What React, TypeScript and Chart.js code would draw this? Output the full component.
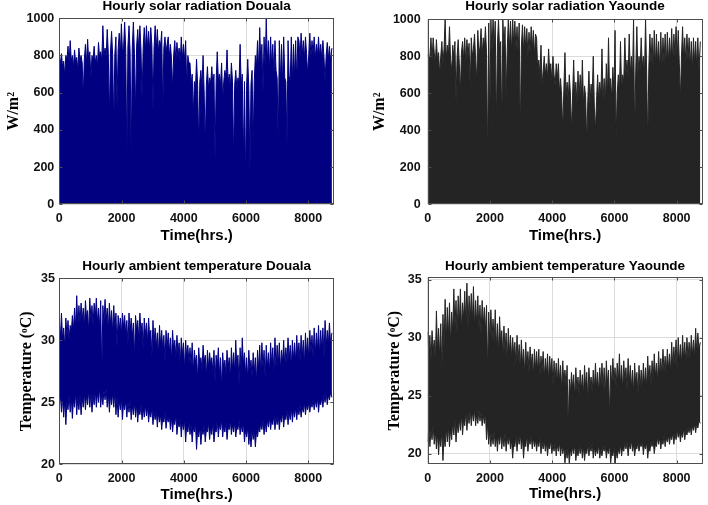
import React, { useEffect, useRef } from "react";
import { Chart, registerables } from "chart.js";

Chart.register(...registerables);

// Sample positions along the year (hours)
const hours = [
  0, 35, 70, 105, 140, 175, 210, 245, 280, 315, 350, 385, 420, 455, 490, 525, 560, 595, 630, 665,
  700, 735, 770, 805, 840, 875, 910, 945, 980, 1015, 1050, 1085, 1120, 1155, 1190, 1225, 1260, 1295, 1330, 1365,
  1400, 1435, 1470, 1505, 1540, 1575, 1610, 1645, 1680, 1715, 1750, 1785, 1820, 1855, 1890, 1925, 1960, 1995, 2030, 2065,
  2100, 2135, 2170, 2205, 2240, 2275, 2310, 2345, 2380, 2415, 2450, 2485, 2520, 2555, 2590, 2625, 2660, 2695, 2730, 2765,
  2800, 2835, 2870, 2905, 2940, 2975, 3010, 3045, 3080, 3115, 3150, 3185, 3220, 3255, 3290, 3325, 3360, 3395, 3430, 3465,
  3500, 3535, 3570, 3605, 3640, 3675, 3710, 3745, 3780, 3815, 3850, 3885, 3920, 3955, 3990, 4025, 4060, 4095, 4130, 4165,
  4200, 4235, 4270, 4305, 4340, 4375, 4410, 4445, 4480, 4515, 4550, 4585, 4620, 4655, 4690, 4725, 4760, 4795, 4830, 4865,
  4900, 4935, 4970, 5005, 5040, 5075, 5110, 5145, 5180, 5215, 5250, 5285, 5320, 5355, 5390, 5425, 5460, 5495, 5530, 5565,
  5600, 5635, 5670, 5705, 5740, 5775, 5810, 5845, 5880, 5915, 5950, 5985, 6020, 6055, 6090, 6125, 6160, 6195, 6230, 6265,
  6300, 6335, 6370, 6405, 6440, 6475, 6510, 6545, 6580, 6615, 6650, 6685, 6720, 6755, 6790, 6825, 6860, 6895, 6930, 6965,
  7000, 7035, 7070, 7105, 7140, 7175, 7210, 7245, 7280, 7315, 7350, 7385, 7420, 7455, 7490, 7525, 7560, 7595, 7630, 7665,
  7700, 7735, 7770, 7805, 7840, 7875, 7910, 7945, 7980, 8015, 8050, 8085, 8120, 8155, 8190, 8225, 8260, 8295, 8330, 8365,
  8400, 8435, 8470, 8505, 8540, 8575, 8610, 8645, 8680, 8715, 8760,
];

// Hourly solar radiation, Douala (W/m2)
const solarDouala = [
  790, 760, 810, 740, 770, 690, 800, 780, 850, 760, 880, 770, 800, 740, 830, 760, 790, 720, 840, 770,
  800, 760, 580, 780, 860, 750, 887, 770, 820, 680, 800, 780, 850, 760, 800, 740, 870, 790, 820, 770,
  960, 800, 840, 790, 940, 810, 462, 820, 930, 800, 417, 810, 900, 525, 830, 920, 800, 970, 820, 840,
  980, 830, 256, 850, 960, 820, 247, 840, 980, 810, 500, 850, 940, 820, 960, 830, 560, 840, 950, 820,
  960, 840, 930, 820, 950, 850, 507, 840, 960, 830, 940, 820, 880, 850, 930, 498, 840, 900, 820, 860,
  900, 790, 860, 780, 620, 800, 880, 770, 870, 790, 840, 760, 900, 780, 860, 770, 880, 640, 800, 760,
  760, 640, 700, 480, 660, 620, 780, 640, 310, 660, 720, 630, 800, 600, 310, 640, 740, 620, 680, 650,
  740, 640, 700, 238, 660, 820, 670, 700, 640, 760, 560, 660, 720, 680, 830, 650, 700, 620, 760, 660,
  238, 640, 720, 620, 680, 650, 860, 630, 700, 238, 660, 131, 640, 780, 620, 176, 650, 720, 337, 660,
  800, 740, 880, 720, 950, 760, 860, 600, 900, 740, 1000, 760, 880, 720, 900, 740, 860, 700, 880, 720,
  680, 319, 880, 660, 860, 640, 900, 680, 660, 310, 880, 690, 660, 900, 650, 860, 680, 880, 660, 900,
  880, 790, 920, 800, 880, 780, 900, 810, 700, 800, 920, 790, 880, 810, 900, 780, 860, 800, 900, 790,
  860, 780, 880, 790, 660, 800, 870, 780, 850, 770, 840,
];

// Hourly solar radiation, Yaounde (W/m2)
const solarYaounde = [
  810, 790, 800, 900, 780, 900, 820, 760, 890, 780, 820, 700, 800, 880, 760, 840, 1000, 780, 860, 800,
  960, 780, 720, 860, 790, 880, 550, 800, 890, 760, 600, 820, 880, 780, 900, 760, 890, 800, 870, 618,
  900, 800, 840, 920, 780, 660, 940, 810, 850, 950, 800, 900, 840, 960, 820, 231, 980, 438, 1000, 820,
  1000, 850, 990, 420, 860, 1000, 830, 880, 402, 1000, 850, 960, 564, 830, 1000, 840, 990, 820, 1000, 860,
  990, 840, 960, 820, 980, 369, 850, 970, 820, 960, 840, 950, 800, 930, 820, 960, 840, 940, 800, 920,
  900, 720, 780, 700, 860, 640, 720, 800, 700, 760, 680, 840, 720, 760, 660, 800, 700, 640, 760, 680,
  760, 600, 680, 580, 400, 620, 820, 580, 660, 560, 700, 600, 400, 580, 780, 560, 660, 540, 720, 580,
  700, 560, 780, 540, 640, 580, 330, 560, 720, 540, 650, 580, 800, 520, 400, 560, 700, 560, 660, 580,
  840, 560, 680, 540, 760, 580, 900, 600, 680, 560, 740, 600, 940, 350, 600, 700, 600, 880, 620, 700,
  660, 900, 700, 780, 680, 920, 700, 800, 680, 1000, 375, 720, 960, 700, 800, 720, 900, 740, 800, 700,
  1000, 720, 320, 740, 920, 760, 900, 720, 940, 740, 920, 760, 880, 720, 930, 740, 900, 760, 920, 740,
  930, 760, 900, 780, 950, 760, 920, 800, 960, 780, 940, 760, 564, 800, 960, 780, 900, 760, 920, 780,
  900, 740, 880, 720, 900, 760, 880, 740, 900, 720, 880,
];

// Hourly ambient temperature, Douala (degC): upper and lower envelopes
const tempDoualaHigh = [
  31.4, 30.2, 32.2, 30.0, 31.0, 29.4, 31.8, 30.4, 31.6, 30.0, 31.2, 30.6, 32.0, 30.8, 32.6, 31.0, 33.6, 31.2, 32.8, 31.4,
  33.0, 31.6, 32.6, 31.0, 33.2, 31.8, 32.4, 30.6, 33.4, 31.6, 32.8, 31.2, 33.0, 31.8, 33.4, 31.4, 32.6, 31.0, 33.2, 27.0,
  32.8, 31.4, 33.3, 31.6, 32.6, 30.8, 33.0, 31.2, 32.4, 30.6, 32.8, 31.0, 32.2, 29.4, 32.0, 30.8, 31.8, 30.4, 32.2, 31.0,
  32.0, 30.4, 31.6, 29.6, 32.2, 30.6, 31.8, 30.2, 31.4, 28.6, 32.0, 30.8, 31.6, 30.0, 32.2, 30.6, 31.4, 29.2, 31.8, 30.4,
  31.4, 29.8, 31.8, 30.2, 30.8, 28.6, 31.6, 29.8, 31.0, 29.4, 30.6, 28.8, 31.2, 29.6, 30.8, 29.2, 30.4, 28.2, 30.8, 29.4,
  30.6, 29.0, 30.2, 28.4, 30.8, 29.2, 30.0, 28.6, 30.4, 29.0, 29.8, 28.0, 30.2, 28.8, 29.8, 27.6, 30.0, 28.6, 29.6, 28.2,
  29.4, 28.0, 29.8, 27.4, 29.2, 28.2, 28.8, 26.8, 29.4, 28.0, 28.6, 27.6, 29.6, 28.2, 28.8, 27.0, 29.2, 27.8, 29.0, 28.0,
  28.6, 27.4, 29.2, 26.6, 28.8, 27.8, 29.4, 27.2, 28.6, 26.2, 29.0, 27.6, 28.4, 27.2, 29.2, 27.8, 28.6, 26.8, 29.4, 27.6,
  29.0, 27.4, 30.0, 27.8, 28.8, 26.4, 29.4, 27.6, 30.2, 28.0, 29.0, 27.2, 28.6, 26.8, 29.2, 27.6, 28.4, 27.0, 29.0, 27.4,
  28.6, 26.6, 29.2, 27.6, 29.6, 27.2, 29.8, 27.8, 29.2, 26.8, 29.6, 27.8, 29.0, 27.4, 29.8, 28.0, 29.4, 27.4, 30.2, 27.8,
  29.6, 28.0, 29.8, 27.6, 29.2, 28.2, 30.0, 27.8, 29.4, 28.2, 30.2, 28.4, 29.6, 27.8, 30.0, 28.4, 29.8, 28.2, 30.4, 28.6,
  29.8, 28.2, 30.4, 28.6, 30.0, 28.0, 30.6, 28.8, 30.2, 28.4, 30.8, 29.0, 30.4, 28.6, 31.0, 28.8, 30.6, 29.2, 31.2, 28.8,
  30.8, 29.2, 31.0, 28.6, 31.6, 29.4, 30.8, 29.6, 31.4, 29.8, 30.6,
];
const tempDoualaLow = [
  24.8, 25.6, 24.2, 25.4, 23.8, 25.2, 23.2, 25.0, 24.4, 25.6, 24.2, 25.4, 23.7, 25.2, 24.6, 25.8, 24.0, 25.4, 24.4, 25.6,
  24.0, 25.4, 24.6, 25.8, 24.4, 25.6, 24.8, 26.0, 24.6, 25.8, 24.2, 25.6, 24.8, 26.0, 24.6, 25.8, 25.0, 26.2, 24.6, 25.8,
  24.8, 26.0, 25.2, 26.2, 24.6, 25.8, 24.2, 25.6, 24.8, 25.8, 24.6, 25.8, 24.0, 25.4, 23.8, 25.2, 24.4, 25.4, 23.6, 25.0,
  24.4, 25.2, 23.8, 25.0, 24.2, 25.2, 23.6, 24.8, 24.0, 25.0, 23.8, 24.8, 23.4, 24.6, 24.0, 24.8, 23.6, 24.6, 23.8, 24.8,
  23.9, 24.6, 23.4, 24.4, 23.8, 24.6, 23.2, 24.2, 23.6, 24.4, 23.0, 24.2, 23.4, 24.0, 22.8, 23.8, 23.4, 24.2, 22.9, 23.8,
  23.4, 24.0, 22.8, 23.8, 22.6, 23.6, 23.2, 24.0, 22.4, 23.4, 23.0, 23.8, 22.2, 23.4, 22.8, 23.6, 21.8, 23.2, 22.6, 23.4,
  22.4, 23.2, 21.8, 23.0, 22.6, 23.4, 21.2, 22.8, 22.2, 23.0, 21.6, 22.8, 22.4, 23.2, 21.8, 22.8, 22.6, 23.4, 22.0, 23.0,
  22.4, 23.4, 21.8, 22.8, 22.6, 23.6, 22.2, 23.2, 22.8, 23.6, 22.2, 23.2, 22.6, 23.4, 22.0, 23.0, 22.8, 23.6, 22.4, 23.2,
  22.6, 23.4, 22.2, 23.0, 22.8, 23.6, 22.4, 23.2, 22.6, 23.4, 21.8, 22.8, 22.2, 23.0, 21.6, 22.6, 21.4, 22.8, 22.0, 22.8,
  21.4, 22.6, 22.2, 23.0, 22.6, 23.4, 22.8, 23.6, 22.4, 23.4, 22.6, 23.6, 23.0, 23.8, 22.8, 23.6, 23.2, 24.0, 22.8, 23.8,
  23.2, 24.0, 22.8, 23.8, 23.4, 24.2, 23.0, 24.0, 23.6, 24.4, 23.2, 24.2, 23.6, 24.6, 23.4, 24.4, 23.8, 24.6, 23.6, 24.6,
  24.0, 24.8, 23.8, 24.6, 24.2, 25.0, 24.0, 24.8, 24.4, 25.0, 24.2, 25.0, 24.6, 25.2, 24.4, 25.2, 24.6, 25.4, 24.2, 25.2,
  24.8, 25.4, 24.6, 25.6, 25.0, 25.8, 24.8, 25.6, 25.2, 25.8, 25.4,
];

// Hourly ambient temperature, Yaounde (degC): upper and lower envelopes
const tempYaoundeHigh = [
  30.5, 28.6, 30.2, 28.0, 30.6, 28.8, 29.8, 27.6, 32.3, 28.8, 30.8, 28.2, 31.2, 27.0, 32.0, 29.0, 33.3, 29.6, 32.6, 30.0,
  33.0, 29.4, 32.2, 30.4, 34.2, 30.8, 33.2, 30.2, 33.6, 31.0, 34.2, 30.6, 33.0, 31.6, 34.0, 31.2, 34.7, 30.8, 33.6, 31.4,
  33.8, 31.2, 34.4, 30.8, 33.2, 31.0, 33.6, 30.6, 32.8, 30.2, 33.2, 31.0, 32.6, 30.4, 32.8, 27.0, 32.2, 29.6, 32.4, 29.8,
  31.6, 29.4, 32.4, 29.0, 31.2, 28.6, 31.8, 29.4, 30.6, 28.4, 31.0, 28.8, 30.4, 27.8, 30.8, 28.6, 30.2, 28.2, 30.0, 28.4,
  29.6, 27.6, 30.2, 28.0, 29.4, 27.2, 29.8, 27.6, 29.0, 26.8, 29.6, 27.4, 28.8, 27.0, 29.2, 27.6, 28.6, 26.6, 29.0, 27.2,
  28.8, 27.0, 29.0, 26.6, 28.4, 27.2, 28.8, 26.4, 28.2, 26.8, 28.6, 26.2, 28.4, 26.8, 28.2, 25.8, 28.0, 26.4, 27.8, 26.0,
  28.2, 26.2, 27.6, 25.4, 28.0, 26.0, 27.2, 25.8, 27.6, 22.0, 26.4, 25.2, 27.0, 25.6, 26.8, 24.8, 27.4, 25.4, 26.6, 25.0,
  27.2, 25.4, 26.8, 25.0, 27.6, 25.6, 27.0, 24.6, 27.4, 25.8, 26.6, 25.2, 27.2, 25.4, 27.8, 25.6, 27.0, 25.2, 27.4, 25.8,
  27.8, 25.6, 27.4, 24.8, 28.0, 26.0, 27.2, 23.0, 27.6, 25.8, 28.2, 26.2, 27.4, 25.6, 27.8, 26.0, 28.6, 25.8, 27.6, 25.4,
  28.0, 26.2, 27.4, 25.4, 28.2, 26.0, 27.6, 25.6, 27.2, 25.2, 27.8, 25.8, 27.0, 25.0, 27.6, 25.6, 27.2, 25.4, 27.8, 25.8,
  27.4, 25.6, 28.4, 26.2, 27.6, 25.8, 28.0, 26.4, 28.6, 26.6, 27.8, 26.2, 28.8, 26.6, 28.2, 26.8, 29.0, 27.0, 28.4, 26.8,
  29.0, 27.2, 28.6, 27.0, 29.6, 27.4, 29.2, 27.6, 29.8, 27.2, 30.0, 27.8, 29.4, 27.6, 30.2, 28.0, 29.6, 27.8, 30.0, 28.2,
  29.6, 28.0, 30.2, 28.4, 29.8, 28.2, 30.8, 28.6, 30.4, 29.0, 29.6,
];
const tempYaoundeLow = [
  21.0, 22.4, 20.6, 22.0, 21.2, 22.6, 20.8, 22.0, 20.4, 21.8, 19.9, 21.6, 20.6, 22.0, 19.4, 21.4, 20.6, 22.2, 21.0, 22.4,
  20.6, 22.2, 21.2, 22.8, 21.6, 23.0, 21.0, 22.6, 21.8, 23.0, 22.0, 23.4, 21.6, 23.0, 22.4, 23.6, 22.0, 23.4, 22.6, 23.8,
  22.4, 23.6, 22.8, 23.8, 22.4, 23.4, 22.6, 23.8, 22.8, 23.6, 22.4, 23.4, 22.6, 23.6, 21.2, 22.6, 20.8, 22.0, 20.6, 21.8,
  20.8, 22.0, 20.6, 21.6, 20.2, 21.6, 20.8, 21.8, 20.4, 21.6, 20.6, 21.8, 20.2, 21.4, 20.8, 21.6, 20.4, 21.2, 19.6, 21.0,
  20.6, 21.6, 20.2, 21.4, 20.8, 21.8, 20.4, 21.4, 19.6, 21.0, 20.6, 21.6, 20.2, 21.2, 20.8, 21.6, 20.4, 21.4, 20.6, 21.2,
  20.2, 21.2, 20.6, 21.4, 20.0, 21.0, 20.4, 21.2, 20.2, 21.0, 19.8, 20.8, 20.4, 21.2, 20.0, 20.8, 20.2, 21.0, 19.8, 20.8,
  20.2, 21.0, 19.8, 20.8, 20.0, 20.6, 19.2, 20.4, 19.6, 20.6, 19.1, 20.4, 19.8, 20.6, 20.0, 20.8, 19.4, 20.4, 19.8, 20.6,
  20.0, 20.8, 19.6, 20.6, 19.4, 20.4, 20.0, 20.8, 19.8, 20.6, 20.2, 21.0, 19.6, 20.6, 19.8, 20.4, 20.0, 20.8, 19.6, 20.4,
  19.8, 20.6, 20.2, 20.8, 19.6, 20.4, 20.0, 20.8, 19.2, 20.2, 19.8, 20.6, 19.1, 20.2, 19.6, 20.4, 20.0, 20.8, 19.8, 20.6,
  20.2, 21.0, 20.4, 21.0, 19.8, 20.8, 20.4, 21.2, 20.2, 20.8, 19.8, 20.6, 20.4, 21.0, 20.2, 20.8, 20.6, 21.2, 19.9, 20.8,
  20.4, 21.0, 19.6, 20.6, 20.2, 21.0, 20.6, 21.2, 20.0, 20.8, 20.6, 21.4, 20.8, 21.4, 20.4, 21.2, 20.8, 21.6, 20.6, 21.4,
  21.0, 21.6, 20.8, 21.6, 21.2, 21.8, 20.8, 21.8, 21.2, 22.0, 21.4, 22.0, 21.0, 21.8, 21.4, 22.2, 21.2, 22.0, 21.6, 22.2,
  21.8, 22.4, 21.6, 22.4, 22.0, 22.6, 21.8, 22.6, 22.2, 22.8, 22.6,
];

const xTickValues = [0, 2000, 4000, 6000, 8000];
const solarTickValues = [0, 200, 400, 600, 800, 1000];
const tempTickValues = [20, 25, 30, 35];

const X_MAX = 8830;
const NAVY = "#000080";
const DARK = "#242424";
const GRID = "#dcdcdc";
const FRAME = "#4d4d4d";
const TEXT = "#111111";
const FONT_SANS = '"Liberation Sans", Arial, sans-serif';
const FONT_SERIF = '"Liberation Serif", "Times New Roman", serif';

type Series = { values: number[]; fill: any };
type PanelSpec = {
  left: number; top: number; width: number; height: number;
  title: string; titlePadTop: number; titlePadBottom: number;
  yTitle: string; yTitlePad: number; yAxisWidth: number; yTickPad: number;
  xAxisHeight: number; xTitlePad: number; padRight: number;
  yMin: number; yMax: number; yTicks: number[];
  color: string; series: Series[];
};

const framePlugin = {
  id: "matlabFrame",
  afterDatasetsDraw(chart: any) {
    const { ctx, chartArea: a, scales } = chart;
    const L = Math.round(a.left) + 0.5;
    const R = Math.round(a.right) - 0.5;
    const T = Math.round(a.top) + 0.5;
    const B = Math.round(a.bottom) - 0.5;
    ctx.save();
    ctx.strokeStyle = FRAME;
    ctx.lineWidth = 1;
    ctx.strokeRect(L, T, R - L, B - T);
    ctx.beginPath();
    scales.x.ticks.forEach((t: any) => {
      const px = Math.round(scales.x.getPixelForValue(t.value)) + 0.5;
      ctx.moveTo(px, B); ctx.lineTo(px, B - 3);
      ctx.moveTo(px, T); ctx.lineTo(px, T + 3);
    });
    scales.y.ticks.forEach((t: any) => {
      const py = Math.round(scales.y.getPixelForValue(t.value)) + 0.5;
      ctx.moveTo(L, py); ctx.lineTo(L + 3, py);
      ctx.moveTo(R, py); ctx.lineTo(R - 3, py);
    });
    ctx.stroke();
    ctx.restore();
  },
};

function buildConfig(p: PanelSpec): any {
  const tickFont = { family: FONT_SANS, size: 12.5, weight: "bold", lineHeight: 1.2 };
  const datasets = p.series.map((s) => ({
    data: hours.map((h, k) => ({ x: h, y: s.values[k] })),
    borderColor: p.color,
    backgroundColor: p.color,
    borderWidth: 1,
    pointRadius: 0,
    tension: 0,
    fill: s.fill,
  }));
  return {
    type: "line",
    data: { datasets },
    options: {
      responsive: false,
      animation: false,
      devicePixelRatio: 1,
      events: [],
      layout: { padding: { left: 0, right: p.padRight, top: 0, bottom: 0 } },
      plugins: {
        legend: { display: false },
        tooltip: { enabled: false },
        title: {
          display: true,
          text: p.title,
          fullSize: false,
          color: "#000",
          font: { family: FONT_SANS, size: 13.5, weight: "bold", lineHeight: 1 },
          padding: { top: p.titlePadTop, bottom: p.titlePadBottom },
        },
      },
      scales: {
        x: {
          type: "linear",
          min: 0,
          max: X_MAX,
          afterFit: (s: any) => { s.height = p.xAxisHeight; },
          afterBuildTicks: (s: any) => { s.ticks = xTickValues.map((v) => ({ value: v })); },
          ticks: {
            padding: 7, maxRotation: 0, autoSkip: false,
            color: TEXT, font: tickFont, callback: (v: any) => String(v),
          },
          grid: { color: GRID, drawTicks: false },
          border: { display: false },
          title: {
            display: true, text: "Time(hrs.)", color: "#000",
            font: { family: FONT_SANS, size: 15, weight: "bold", lineHeight: 1 },
            padding: { top: 0, bottom: p.xTitlePad },
          },
        },
        y: {
          type: "linear",
          min: p.yMin,
          max: p.yMax,
          afterFit: (s: any) => { s.width = p.yAxisWidth; },
          afterBuildTicks: (s: any) => { s.ticks = p.yTicks.map((v) => ({ value: v })); },
          ticks: {
            padding: p.yTickPad, autoSkip: false,
            color: TEXT, font: tickFont, callback: (v: any) => String(v),
          },
          grid: { color: GRID, drawTicks: false },
          border: { display: false },
          title: {
            display: true, text: p.yTitle, color: "#000",
            font: { family: FONT_SERIF, size: 16, weight: "bold", lineHeight: 1 },
            padding: { top: p.yTitlePad, bottom: 0 },
          },
        },
      },
    },
    plugins: [framePlugin],
  };
}

const panels: PanelSpec[] = [
  {
    left: 0, top: 0, width: 354, height: 250,
    title: "Hourly solar radiation Douala", titlePadTop: 0, titlePadBottom: 4.8,
    yTitle: "W/m²", yTitlePad: 5.8, yAxisWidth: 59.3, yTickPad: 5,
    xAxisHeight: 45.7, xTitlePad: 6.8, padRight: 19.9,
    yMin: 0, yMax: 1000, yTicks: solarTickValues, color: NAVY,
    series: [{ values: solarDouala, fill: "origin" }],
  },
  {
    left: 354, top: 0, width: 354, height: 250,
    title: "Hourly solar radiation Yaounde", titlePadTop: 0, titlePadBottom: 5.8,
    yTitle: "W/m²", yTitlePad: 18.3, yAxisWidth: 73.7, yTickPad: 7,
    xAxisHeight: 45.7, xTitlePad: 6.8, padRight: 5.5,
    yMin: 0, yMax: 1000, yTicks: solarTickValues, color: DARK,
    series: [{ values: solarYaounde, fill: "origin" }],
  },
  {
    left: 0, top: 250, width: 354, height: 255,
    title: "Hourly ambient temperature Douala", titlePadTop: 9.05, titlePadBottom: 5.75,
    yTitle: "Temperature (ᵒC)", yTitlePad: 19, yAxisWidth: 59.3, yTickPad: 4.3,
    xAxisHeight: 40.7, xTitlePad: 2.8, padRight: 19.9,
    yMin: 20, yMax: 35, yTicks: tempTickValues, color: NAVY,
    series: [{ values: tempDoualaLow, fill: false }, { values: tempDoualaHigh, fill: "-1" }],
  },
  {
    left: 354, top: 250, width: 354, height: 255,
    title: "Hourly ambient temperature Yaounde", titlePadTop: 9.95, titlePadBottom: 3.85,
    yTitle: "Temperature (ᵒC)", yTitlePad: 32.7, yAxisWidth: 73.7, yTickPad: 6,
    xAxisHeight: 41, xTitlePad: 3.2, padRight: 5.5,
    yMin: 19.1, yMax: 35.2, yTicks: tempTickValues, color: DARK,
    series: [{ values: tempYaoundeLow, fill: false }, { values: tempYaoundeHigh, fill: "-1" }],
  },
];

function Panel({ spec }: { spec: PanelSpec }) {
  const ref = useRef<HTMLCanvasElement | null>(null);
  useEffect(() => {
    if (!ref.current) return;
    const chart = new Chart(ref.current, buildConfig(spec));
    return () => chart.destroy();
  }, [spec]);
  return (
    <canvas
      ref={ref}
      width={spec.width}
      height={spec.height}
      style={{ position: "absolute", left: spec.left, top: spec.top, width: spec.width, height: spec.height }}
    />
  );
}

export default function App() {
  return (
    <div style={{ position: "absolute", left: 0, top: 0, width: 708, height: 505, background: "#fff", overflow: "hidden" }}>
      {panels.map((p, i) => (
        <Panel key={i} spec={p} />
      ))}
    </div>
  );
}
